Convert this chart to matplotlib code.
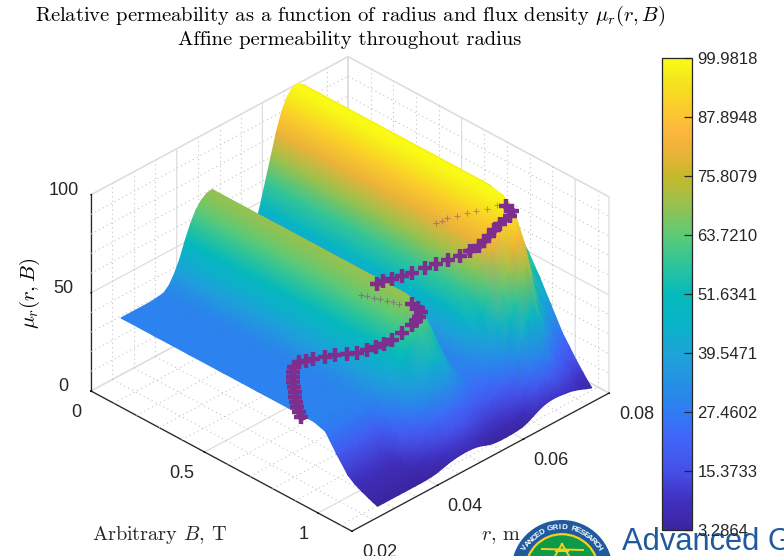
import numpy as np
import matplotlib
matplotlib.use("Agg")
import matplotlib.pyplot as plt
from matplotlib.colors import LinearSegmentedColormap, Normalize
from matplotlib.cm import ScalarMappable
from matplotlib.collections import QuadMesh
from matplotlib.patches import Circle
from matplotlib.lines import Line2D
from matplotlib.transforms import IdentityTransform
from mpl_toolkits.mplot3d import proj3d

W, H = 784, 556

# ---- data ----
r_values = [.027, .02825, .0295, .03075, .032, .03325, .0345, .03575, .037, .03825, .0395,
            .04075, .042, .04325, .0445, .04575, .047, .04825, .0495, .05075, .052,
            .05325, .0545, .05575, .057, .05825, .0595, .06075, .062, .06325, .0645,
            .06575, .067, .06825, .0695, .07075, .072, .07325, .0745, .07575, .077]
B_plateau = [0, .15, .3, .45, .6, .75]
B_knee = [.8, .85, .9, .95, 1, 1.03, 1.06, 1.09, 1.11, 1.13]
# each line: one radius; first value = plateau (B <= .75), then the values at B_knee
mu_table = [
    [29, 29, 29, 27.2, 18.7, 11, 8.4, 6.6, 5.1, 4.1, 3.3],
    [29, 29, 29, 27.2, 18.7, 11, 8.4, 6.6, 5.1, 4.1, 3.3],
    [29, 29, 29, 27.2, 18.7, 11, 8.4, 6.6, 5.1, 4.1, 3.3],
    [29, 29, 29, 27.2, 18.7, 11, 8.4, 6.6, 5.1, 4.1, 3.3],
    [29, 29, 29, 27.2, 18.7, 11, 8.4, 6.6, 5.1, 4.1, 3.3],
    [29, 29, 29, 27.2, 18.7, 11, 8.4, 6.6, 5.1, 4.1, 3.3],
    [29.2, 29.2, 29.2, 27.3, 18.8, 11.1, 8.5, 6.6, 5.1, 4.1, 3.3],
    [29.5, 29.5, 29.5, 27.6, 19, 11.2, 8.5, 6.7, 5.2, 4.1, 3.3],
    [30, 30, 30, 28.1, 20, 12, 8.8, 6.8, 5.2, 4.2, 3.3],
    [32.5, 32.5, 32.5, 31.9, 26.4, 19.4, 14.7, 10.7, 6.9, 5.1, 3.4],
    [37, 37, 37, 37, 32.3, 23.6, 18, 12.6, 8.3, 5.6, 3.6],
    [43, 43, 43, 43, 39.1, 29, 21.9, 15.3, 9.5, 6.7, 4],
    [51, 51, 51, 51, 47.8, 35.8, 27.4, 19.1, 11.7, 8, 4.8],
    [58, 58, 58, 57, 50, 37, 29, 20, 13, 9.3, 5.6],
    [63.5, 63.5, 63.5, 62.5, 55, 41, 32, 22, 14.5, 10.5, 6.2],
    [67, 67, 67, 66, 58, 43, 33, 23, 15, 11, 6.6],
    [69, 69, 69, 68, 60, 45, 34, 24, 16, 11.5, 6.8],
    [69.5, 69.5, 69.5, 68, 58, 44, 34, 24, 16, 11.5, 6.8],
    [66, 66, 66, 63, 53, 40, 31, 22.5, 15, 10.8, 6.6],
    [58, 58, 58, 56, 47, 36, 29, 21, 14, 9.8, 6],
    [48, 48, 48, 46, 40, 32, 26.5, 20, 13, 9, 5],
    [39, 39, 39, 37, 34, 29, 25, 19, 12, 8, 4],
    [33, 33, 32.7, 32, 30, 27, 23.5, 18, 11, 7, 3.5],
    [30.5, 30.5, 30.2, 30, 29, 26, 23, 17.5, 10.5, 6.5, 3.3],
    [30, 30, 30, 30, 29, 26, 23, 17.5, 10.5, 6.5, 3.3],
    [38, 38, 38, 37, 34, 29, 25, 19, 11, 7, 3.4],
    [48, 48, 48, 46, 41, 33, 27, 20, 12, 7.5, 3.6],
    [59, 59, 59, 57, 50, 37, 29, 21, 12.5, 8, 4],
    [70, 70, 70, 69, 61, 45, 34, 24, 14.5, 9.6, 5],
    [81, 81, 81, 81, 80.3, 62.4, 47.5, 32.6, 19.2, 11.7, 6.5],
    [90, 90, 90, 90, 86, 70, 56, 40, 24, 15.4, 8],
    [96, 96, 96, 96, 93, 80, 66, 48, 28, 17.9, 9.2],
    [99.5, 99.5, 99.5, 99.5, 97, 86, 73, 53, 31, 19.7, 9.8],
    [99.98, 99.98, 99.98, 99.5, 95, 80, 66, 47, 28, 18, 10],
    [98, 98, 97, 94, 83, 64, 52, 38, 23, 16, 9.8],
    [95, 95, 92, 85, 71, 52, 41, 30, 20, 14, 9.4],
    [90, 90, 85, 75, 60, 43, 33, 25, 17, 12.5, 9],
    [84, 84, 77, 66, 51, 36, 28, 21, 15, 11.5, 8.2],
    [78, 77, 69, 58, 44, 30, 23, 17.5, 12.5, 9.5, 7.2],
    [71, 70, 63, 52.5, 40, 27.5, 21.5, 16, 11, 8.5, 6],
    [65, 64, 57, 47, 36, 25, 20, 15, 10.5, 7.5, 5],
]

# purple affine-limit curve, near ridge 1
path1_r = [.0273, .0280, .02875, .0295, .0302, .0312, .0322, .0332, .0342, .0351, .03605, .03696,
           .0378, .0387, .0392, .03995, .0405, .0406, .0412, .0415, .0419, .0424, .0433, .0441,
           .0447, .0453, .0462, .0464, .0466]
path1_B = [.789, .766, .744, .725, .707, .685, .662, .641, .62, .604, .589, .598,
           .610, .623, .666, .696, .739, .781, .817, .851, .879, .905, .931, .961,
           .965, .968, .96, .94, .913]
path1_z = [27, 27.5, 28, 28.5, 29, 29, 29, 29, 29, 29.5, 30, 32,
           32.5, 33, 36, 38, 41, 44, 47, 50, 53, 56, 60, 65,
           66.5, 68, 69, 70, 70]
# purple curve, near ridge 2
path2_r = [.0587, .059, .0593, .05974, .06014, .0607, .06118, .06166, .06219, .0626, .0631, .0635,
           .0639, .0645, .0652, .0659, .0669, .0668]
path2_B = [.53, .549, .583, .619, .658, .701, .741, .784, .828, .863, .897, .912,
           .926, .937, .947, .977, .971, .946]
path2_z = [42, 44.4, 47.1, 50.4, 54, 58.5, 62.4, 66.6, 70.8, 75, 79, 82,
           85, 88, 91, 96, 97, 98]
# where the curve only just shows through the surface
faint_r = [.0464, .0462, .0461, .0456, .0452, .045, .0448,
           .0631, .0634, .0637, .0641, .0645, .0649, .0652, .066]
faint_B = [.86, .835, .813, .79, .772, .745, .723,
           .707, .725, .742, .78, .814, .85, .89, .92]
faint_z = [67, 66.5, 66, 66, 66, 65.5, 65,
           78.9, 81, 82.9, 86, 89, 92, 95, 98]

B_ticks = [0, .5, 1]
B_labels = ['0', '0.5', '1']
r_ticks = [.02, .04, .06, .08]
r_labels = ['0.02', '0.04', '0.06', '0.08']
z_ticks = [0, 50, 100]
B_minor = [.1, .2, .3, .4, .6, .7, .8, .9, 1.1]
r_minor = [.025, .03, .035, .045, .05, .055, .065, .07, .075]
z_minor = [10, 20, 30, 40, 60, 70, 80, 90]
cbar_ticks = [3.2864, 15.3733, 27.4602, 39.5471, 51.6341, 63.7210, 75.8079, 87.8948, 99.9818]
B_max, r_min, r_max, z_max = 1.149, .02, .08, 100

# ---- style ----
plt.rcParams['font.family'] = ['Liberation Sans', 'DejaVu Sans']
plt.rcParams['mathtext.fontset'] = 'cm'
plt.rcParams['grid.color'] = '#dedede'
plt.rcParams['grid.linewidth'] = 0.9
plt.rcParams['axes.unicode_minus'] = False
DARK = '#262626'
parula = LinearSegmentedColormap.from_list('parula_like', [
    (0.00, '#3b25a0'), (0.06, '#4030c0'), (0.125, '#4650e8'), (0.20, '#3f68fa'),
    (0.25, '#2f7cf2'), (0.31, '#2590e4'), (0.374, '#1ea4d8'), (0.44, '#08b4c8'),
    (0.50, '#06babb'), (0.56, '#2cc49c'), (0.62, '#58ca7a'), (0.69, '#98c24e'),
    (0.75, '#c6b82c'), (0.81, '#f0b23a'), (0.85, '#fdb83c'), (0.90, '#fbce2a'),
    (0.95, '#f6e31e'), (1.00, '#f9fb15')], N=256)
norm = Normalize(vmin=cbar_ticks[0], vmax=cbar_ticks[-1])

fig = plt.figure(figsize=(W / 100, H / 100), dpi=100, facecolor='white')
S0 = 700.0
ax = fig.add_axes([0, 0, S0 / W, S0 / H], projection='3d', computed_zorder=False)
ax.set_proj_type('ortho')
ax.view_init(elev=32.5, azim=-45)
ax.set_box_aspect((370.5, 365, 233.6))
ax.patch.set_alpha(0)

# minor (dotted) grid on walls and floor
minor = dict(color='#c4c4c4', lw=0.8, ls=(0, (1, 3)), zorder=1)
for v in r_minor:
    ax.plot([0, 0], [v, v], [0, z_max], **minor)
    ax.plot([0, B_max], [v, v], [0, 0], **minor)
for v in B_minor:
    ax.plot([v, v], [r_max, r_max], [0, z_max], **minor)
    ax.plot([v, v], [r_min, r_max], [0, 0], **minor)
for v in z_minor:
    ax.plot([0, 0], [r_min, r_max], [v, v], **minor)
    ax.plot([0, B_max], [r_max, r_max], [v, v], **minor)

PURPLE = '#7e2f8e'
ax.plot(path1_B[:12], path1_r[:12], path1_z[:12], color=PURPLE, lw=5, zorder=3)
ax.plot(path1_B, path1_r, path1_z, ls='none', marker='+', ms=10, mew=3.2, color=PURPLE, zorder=3)
ax.plot(path2_B, path2_r, path2_z, ls='none', marker='+', ms=10, mew=3.2, color=PURPLE, zorder=3)
ax.plot(path2_B[9:], path2_r[9:], path2_z[9:], color=PURPLE, lw=5, zorder=3)
ax.plot(faint_B, faint_r, faint_z, ls='none', marker='+', ms=5, mew=.8, color=PURPLE, alpha=.45, zorder=3)

ax.set_xlim(0, B_max)
ax.set_ylim(r_min, r_max)
ax.set_zlim(0, z_max)
ax.set_xticks(B_ticks, B_labels)
ax.set_yticks(r_ticks, r_labels)
ax.set_zticks(z_ticks)
ax.zaxis.set_ticks_position('lower')
ax.tick_params(axis='both', labelsize=13, labelcolor=DARK, pad=0)
ax.tick_params(axis='z', pad=3)
for axis in (ax.xaxis, ax.yaxis, ax.zaxis):
    axis.set_pane_color((1, 1, 1, 1))
    axis.pane.set_edgecolor('#dedede')
    axis.line.set_color(DARK)
    axis.line.set_linewidth(0.9)
    axis._axinfo['tick'].update({'inward_factor': 0.015, 'outward_factor': 0.0, 'linewidth': {True: .9, False: .5}, 'color': DARK})
ax.zaxis._axinfo['tick'].update({'inward_factor': 0.0, 'outward_factor': 0.02})
for lab in ax.xaxis.get_ticklabels():
    lab.set_ha('right')
for lab in ax.yaxis.get_ticklabels():
    lab.set_ha('left')
for lab in ax.zaxis.get_ticklabels():
    lab.set_va('baseline')

# fit the box onto the pixel positions of the reference corners
def px(x, y, z):
    xs, ys, _ = proj3d.proj_transform(x, y, z, ax.get_proj())
    return ax.transData.transform((xs, ys))

fig.canvas.draw()
left = px(0, r_min, 0)
right = px(B_max, r_max, 0)
S = S0 * (609 - 91) / (right[0] - left[0])
ax.set_position([0, 0, S / W, S / H])
fig.canvas.draw()
left = px(0, r_min, 0)
ax.set_position([(91 - left[0]) / W, ((H - 391) - left[1]) / H, S / W, S / H])

# surface: the table's vertices, projected by the 3D axes; colour shaded between them
# (like shading interp). Cells run back to front, so nearer cells paint over farther ones.
table = np.array(mu_table, dtype=float)
B_all = np.array(B_plateau + B_knee)
r_all = np.array(r_values)[::-1]
Z = np.column_stack([table[:, 0]] * (len(B_plateau) - 1) + [table])[::-1].T
R_grid, B_grid = np.meshgrid(r_all, B_all)
xs, ys, _ = proj3d.proj_transform(B_grid.ravel(), R_grid.ravel(), Z.ravel(), ax.get_proj())
coords = np.dstack([np.reshape(xs, Z.shape), np.reshape(ys, Z.shape)])
mesh = QuadMesh(coords, shading='gouraud', cmap=parula, norm=norm, array=Z.ravel(), transform=ax.transData, zorder=2)
mesh.do_3d_projection = lambda: 0
ax.add_collection(mesh, autolim=False)

# text
cm = dict(family='cmr10', color='black')
fig.text(350 / W, 1 - 16 / H, r'Relative permeability as a function of radius and flux density $\mu_r(r,B)$',
         ha='center', va='center', fontsize=14.8, **cm)
fig.text(350 / W, 1 - 40 / H, 'Affine permeability throughout radius',
         ha='center', va='center', fontsize=14.8, **cm)
fig.text(30 / W, 1 - 293 / H, r'$\mu_r(r,B)$', rotation=90, ha='center', va='center', fontsize=15, **cm)
fig.text(92 / W, 1 - 535 / H, r'Arbitrary $B$, T', ha='left', va='center', fontsize=14.6, color='#262626', family='cmr10')
fig.text(481 / W, 1 - 537 / H, r'$r$, m', ha='left', va='center', fontsize=14.6, color='#262626', family='cmr10')

# colour bar
cax = fig.add_axes([662 / W, (H - 530) / H, 30 / W, 472 / H])
cax.set_zorder(10)
cb = fig.colorbar(ScalarMappable(norm=norm, cmap=parula), cax=cax, ticks=cbar_ticks, format='%.4f')
cax.tick_params(direction='in', length=6, width=.9, color=DARK, labelsize=12, labelcolor=DARK, pad=4)
cb.outline.set_edgecolor(DARK)
cb.outline.set_linewidth(.9)

# logo, cut off by the lower edge of the figure
idt = IdentityTransform()
cx, cy = 562, H - 570.7
fig.add_artist(Circle((cx, cy), 50.7, transform=idt, fc='#1f5a9e', ec='none', zorder=5))
fig.add_artist(Circle((cx, cy), 36.5, transform=idt, fc='#0f9a4a', ec='#f2d21e', lw=1.6, zorder=6))
ring = 'VANCED GRID RESEARCH'
for i, ch in enumerate(ring):
    ang = np.deg2rad(148 - i * (116 / (len(ring) - 1)))
    fig.text((cx + 43 * np.cos(ang)) / W, (cy + 43 * np.sin(ang)) / H, ch, rotation=np.rad2deg(ang) - 90,
             ha='center', va='center', fontsize=5.8, fontweight='bold', color='white', zorder=7)
for xs_l, ys_l in [((542, 583), (549, 550)), ((562, 555), (544, 556)), ((562, 569), (544, 556)), ((556, 568), (551, 551))]:
    fig.add_artist(Line2D(xs_l, [H - v for v in ys_l], transform=idt, color='#f2d21e', lw=1.4, zorder=7))
fig.text(622 / W, (H - 550) / H, 'Advanced G', ha='left', va='baseline', fontsize=22.2,
         color='#1f5a9e', zorder=4)

fig.savefig('out.png', dpi=100)
